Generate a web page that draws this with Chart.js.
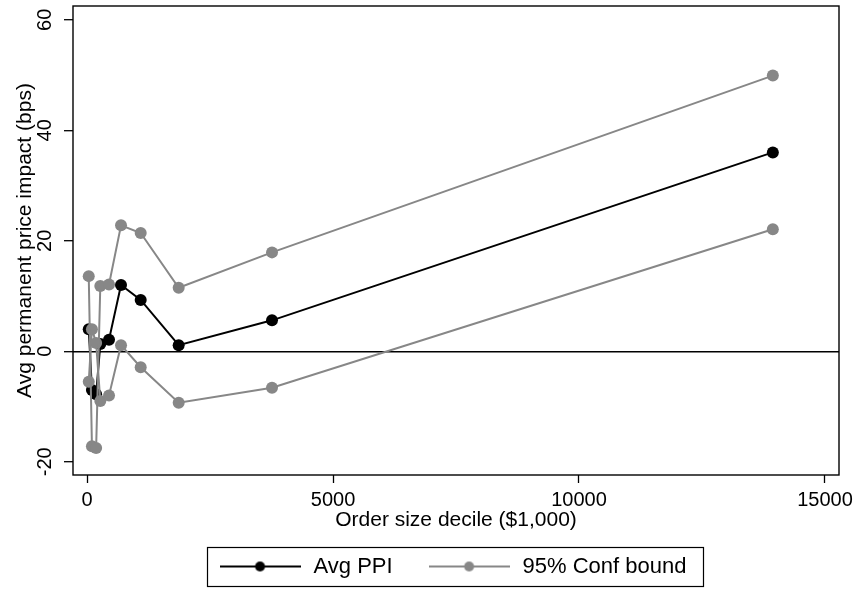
<!DOCTYPE html>
<html>
<head>
<meta charset="utf-8">
<script src="https://cdn.jsdelivr.net/npm/chart.js@4"></script>
<style>
  html, body { margin: 0; padding: 0; background: #fff; }
  #wrap { width: 860px; height: 590px; }
</style>
</head>
<body>
<div id="wrap"><canvas id="ppiChart" width="860" height="590"></canvas></div>
<script>
// data
const orderSize = [35, 100, 185, 270, 447, 691, 1091, 1863, 3760, 13940];
const avgPPI    = [4.0, -7.0, -7.8, 1.3, 2.1, 12.0, 9.3, 1.1, 5.6, 36.0];
// the two bound lines cross at deciles 2 and 3, so they are named A and B
const boundA    = [13.6, -17.2, -17.5, 11.8, 12.1, 22.8, 21.4, 11.5, 17.9, 49.9];
const boundB    = [-5.5, 4.0, 1.5, -9.0, -8.0, 1.1, -2.9, -9.3, -6.6, 22.1];
const xTicks = [0, 5000, 10000, 15000];
const yTicks = [-20, 0, 20, 40, 60];

const BLACK = '#000000';
const GRAY = '#878787';
const FONT = "'Liberation Sans', Arial, Helvetica, sans-serif";

Chart.defaults.font.family = FONT;
Chart.defaults.color = '#000';

function toPoints(xs, ys) {
    return xs.map((x, i) => ({ x: x, y: ys[i] }));
}

// small picture used as legend symbol: line with a dot in the middle
function legendIcon(color) {
    const c = document.createElement('canvas');
    c.width = 81;
    c.height = 14;
    const g = c.getContext('2d');
    g.strokeStyle = color;
    g.lineWidth = 2;
    g.beginPath();
    g.moveTo(0, 7);
    g.lineTo(81, 7);
    g.stroke();
    g.fillStyle = color;
    g.beginPath();
    g.arc(40.5, 7, 5, 0, Math.PI * 2);
    g.fill();
    return c;
}

const iconBlack = legendIcon(BLACK);
const iconGray = legendIcon(GRAY);

// plot frame + box round the legend
const framePlugin = {
    id: 'frame',
    afterLayout(chart) {
        // nudge legend a bit to the left, like the original
        chart.legend.left -= 8;
    },
    afterDraw(chart) {
        const { ctx, chartArea: a } = chart;
        ctx.save();
        ctx.strokeStyle = '#000';
        ctx.lineWidth = 1.4;
        ctx.strokeRect(a.left, a.top, a.right - a.left, a.bottom - a.top);

        const boxes = chart.legend.legendHitBoxes;
        if (boxes && boxes.length) {
            const first = boxes[0];
            const last = boxes[boxes.length - 1];
            const cy = first.top + first.height / 2;
            const left = first.left - 10;
            const right = last.left + last.width + 17;
            ctx.lineWidth = 1.2;
            ctx.strokeRect(left, cy - 19, right - left, 39);
        }
        ctx.restore();
    }
};

const ctx = document.getElementById('ppiChart').getContext('2d');

new Chart(ctx, {
    type: 'line',
    data: {
        datasets: [
            {
                label: 'Avg PPI',
                data: toPoints(orderSize, avgPPI),
                borderColor: BLACK,
                backgroundColor: BLACK,
                borderWidth: 2,
                pointRadius: 6,
                pointBorderWidth: 0,
                pointBackgroundColor: BLACK,
                tension: 0,
                order: 1
            },
            {
                label: '95% Conf bound',
                data: toPoints(orderSize, boundA),
                borderColor: GRAY,
                backgroundColor: GRAY,
                borderWidth: 2,
                pointRadius: 6,
                pointBorderWidth: 0,
                pointBackgroundColor: GRAY,
                tension: 0,
                order: 0
            },
            {
                label: '95% Conf bound (lower)',
                data: toPoints(orderSize, boundB),
                borderColor: GRAY,
                backgroundColor: GRAY,
                borderWidth: 2,
                pointRadius: 6,
                pointBorderWidth: 0,
                pointBackgroundColor: GRAY,
                tension: 0,
                order: 0
            }
        ]
    },
    options: {
        responsive: false,
        animation: false,
        layout: { padding: { top: 5, right: 21, bottom: 2.5, left: 0 } },
        plugins: {
            tooltip: { enabled: false },
            legend: {
                position: 'bottom',
                fullSize: false,
                labels: {
                    usePointStyle: true,
                    pointStyleWidth: 85,
                    padding: 34,
                    font: { size: 22 },
                    color: '#000',
                    generateLabels: () => [
                        { text: 'Avg PPI', pointStyle: iconBlack, fillStyle: BLACK, strokeStyle: BLACK, lineWidth: 0, hidden: false, datasetIndex: 0, fontColor: '#000' },
                        { text: '95% Conf bound', pointStyle: iconGray, fillStyle: GRAY, strokeStyle: GRAY, lineWidth: 0, hidden: false, datasetIndex: 1, fontColor: '#000' }
                    ]
                }
            }
        },
        scales: {
            x: {
                type: 'linear',
                min: -285,
                max: 15285,
                afterBuildTicks: (scale) => { scale.ticks = xTicks.map(v => ({ value: v })); },
                afterFit: (scale) => { scale.height = 46.5; scale.paddingLeft = 0; scale.paddingRight = 0; },
                border: { display: false },
                grid: {
                    drawOnChartArea: false,
                    drawTicks: true,
                    tickLength: 8,
                    tickColor: '#000',
                    tickWidth: 1.3
                },
                ticks: {
                    autoSkip: false,
                    maxRotation: 0,
                    padding: 5,
                    color: '#000',
                    font: { size: 20 },
                    callback: (v) => String(v)
                },
                title: {
                    display: true,
                    text: 'Order size decile ($1,000)',
                    color: '#000',
                    font: { size: 21 },
                    padding: { top: 0, bottom: -11 }
                }
            },
            y: {
                type: 'linear',
                min: -22.4,
                max: 62.5,
                afterBuildTicks: (scale) => { scale.ticks = yTicks.map(v => ({ value: v })); },
                afterFit: (scale) => { scale.width = 73; scale.paddingTop = 0; scale.paddingBottom = 0; },
                border: { display: false },
                grid: {
                    drawTicks: true,
                    tickLength: 9,
                    tickColor: '#000',
                    tickWidth: 1.3,
                    lineWidth: 1.4,
                    color: (c) => (c.tick && c.tick.value === 0 ? '#000' : 'rgba(0,0,0,0)')
                },
                ticks: {
                    autoSkip: false,
                    minRotation: 90,
                    maxRotation: 90,
                    crossAlign: 'center',
                    padding: 4,
                    color: '#000',
                    font: { size: 20 },
                    callback: (v) => String(v)
                },
                title: {
                    display: true,
                    text: 'Avg permanent price impact (bps)',
                    color: '#000',
                    font: { size: 21 },
                    padding: { top: 13, bottom: 0 }
                }
            }
        }
    },
    plugins: [framePlugin]
});
</script>
</body>
</html>
